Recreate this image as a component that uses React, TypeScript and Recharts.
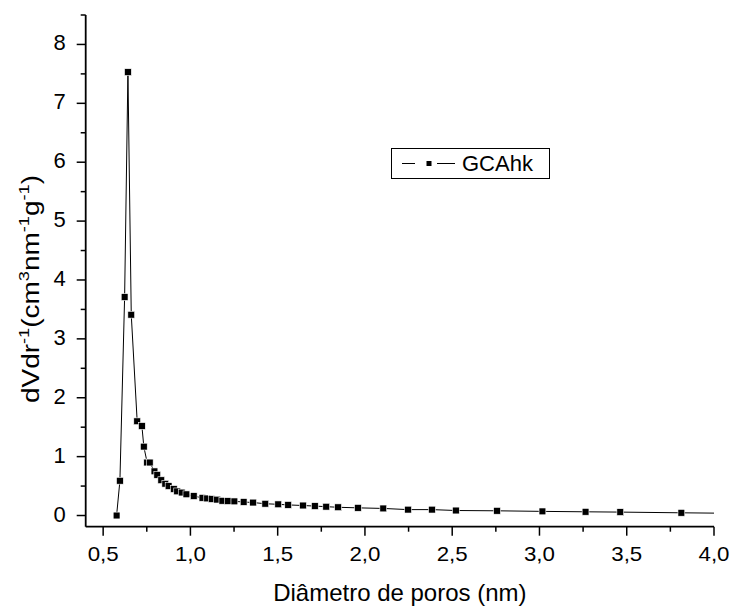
import React from 'react'
import {Line, LineChart, XAxis, YAxis, Label} from 'recharts';

const diameter = [0.577, 0.596, 0.623, 0.642, 0.661, 0.695, 0.722, 0.733, 0.752, 0.767, 0.794, 0.81, 0.833, 0.856, 0.875, 0.905, 0.924, 0.95, 0.977, 1.019, 1.069, 1.096, 1.122, 1.153, 1.183, 1.214, 1.252, 1.305, 1.359, 1.429, 1.503, 1.56, 1.645, 1.713, 1.778, 1.846, 1.96, 2.105, 2.247, 2.384, 2.521, 2.757, 3.017, 3.264, 3.463, 3.813, 4.2];
const dvdr = [0.0, 0.59, 3.71, 7.53, 3.41, 1.60, 1.52, 1.17, 0.90, 0.90, 0.75, 0.69, 0.60, 0.54, 0.50, 0.45, 0.41, 0.39, 0.36, 0.33, 0.30, 0.29, 0.28, 0.27, 0.25, 0.245, 0.24, 0.23, 0.22, 0.20, 0.19, 0.18, 0.17, 0.16, 0.15, 0.14, 0.13, 0.12, 0.10, 0.10, 0.085, 0.08, 0.07, 0.063, 0.058, 0.046, 0.035];
const xTicks = [0.5, 0.75, 1.0, 1.25, 1.5, 1.75, 2.0, 2.25, 2.5, 2.75, 3.0, 3.25, 3.5, 3.75, 4.0];
const yTicks = [0, 0.5, 1, 1.5, 2, 2.5, 3, 3.5, 4, 4.5, 5, 5.5, 6, 6.5, 7, 7.5, 8, 8.5];
const seriesName = 'GCAhk';

const data = diameter.map((d, i) => ({d, v: dvdr[i]}));

const font = '"Liberation Sans", Arial, sans-serif';

const XTick = ({x, y, payload}: any) => {
    const major = Number.isInteger(Math.round(payload.value * 1000) / 500);
    return (
        <g>
            <line x1={x} x2={x} y1={y} y2={y + (major ? 9 : 5)} stroke="#000" strokeWidth={1.5}/>
            {major && (
                <text x={x} y={y + 34} textAnchor="middle" fontSize={21} fontFamily={font} fill="#000"
                      textLength={31} lengthAdjust="spacingAndGlyphs">
                    {payload.value.toFixed(1).replace('.', ',')}
                </text>
            )}
        </g>
    );
};

const YTick = ({x, y, payload}: any) => {
    const major = Number.isInteger(payload.value);
    return (
        <g>
            <line x1={x} x2={x - (major ? 9 : 5)} y1={y} y2={y} stroke="#000" strokeWidth={1.5}/>
            {major && (
                <text x={x - 20} y={y + 6} textAnchor="end" fontSize={22} fontFamily={font} fill="#000">
                    {payload.value}
                </text>
            )}
        </g>
    );
};

const Square = ({cx, cy, index}: any) => (
    <rect key={index} x={cx - 3.4} y={cy - 3.4} width={6.8} height={6.8} fill="#000" stroke="#fff" strokeWidth={0.6}/>
);

const YTitle = ({viewBox}: any) => {
    const cx = viewBox.x + 38.5;
    const cy = 289;
    return (
        <text transform={`rotate(-90, ${cx}, ${cy})`} x={cx} y={cy} textAnchor="middle" fontSize={23} fontFamily={font} fill="#000"
              textLength={228} lengthAdjust="spacingAndGlyphs">
            dVdr<tspan dy={-10} fontSize={15}>-1</tspan>
            <tspan dy={10}>(cm</tspan><tspan dy={-10} fontSize={15}>3</tspan>
            <tspan dy={10}>nm</tspan><tspan dy={-10} fontSize={15}>-1</tspan>
            <tspan dy={10}>g</tspan><tspan dy={-10} fontSize={15}>-1</tspan>
            <tspan dy={10}>)</tspan>
        </text>
    );
};

const XTitle = ({viewBox}: any) => (
    <text x={viewBox.x + viewBox.width / 2} y={viewBox.y + 74} textAnchor="middle" fontSize={24} fontFamily={font} fill="#000">
        Diâmetro de poros (nm)
    </text>
);

const LegendBox = () => (
    <svg width={160} height={32} style={{position: 'absolute', left: 391, top: 148}}>
        <rect x={0.5} y={0.5} width={158} height={30} fill="#fff" stroke="#000" strokeWidth={1}/>
        <line x1={11} x2={24} y1={15.5} y2={15.5} stroke="#000" strokeWidth={1}/>
        <rect x={35.5} y={13} width={5} height={5} fill="#000"/>
        <line x1={46} x2={64} y1={15.5} y2={15.5} stroke="#000" strokeWidth={1}/>
        <text x={71} y={23} fontSize={22} fontFamily={font} fill="#000">{seriesName}</text>
    </svg>
);

export default function App() {
    return (
        <div style={{position: 'absolute', left: 0, top: 0, width: 735, height: 612, background: '#fff'}}>
            <LineChart
                width={735}
                height={612}
                data={data}
                margin={{top: 15, right: 21, bottom: 0, left: 0}}>
                <XAxis
                    dataKey="d"
                    type="number"
                    domain={[0.4, 4.0]}
                    ticks={xTicks}
                    interval={0}
                    allowDataOverflow={true}
                    height={85.3}
                    tickSize={0}
                    tickMargin={0}
                    tickLine={false}
                    tick={<XTick/>}
                    axisLine={{stroke: '#000', strokeWidth: 1.8}}
                >
                    <Label content={<XTitle/>}/>
                </XAxis>
                <YAxis
                    type="number"
                    domain={[-0.19, 8.5]}
                    ticks={yTicks}
                    interval={0}
                    allowDataOverflow={true}
                    width={85.7}
                    tickSize={0}
                    tickMargin={0}
                    tickLine={false}
                    tick={<YTick/>}
                    axisLine={{stroke: '#000', strokeWidth: 1.8}}
                >
                    <Label content={<YTitle/>}/>
                </YAxis>
                <Line
                    dataKey="v"
                    name={seriesName}
                    type="linear"
                    stroke="#000"
                    strokeWidth={1}
                    dot={<Square/>}
                    activeDot={false}
                    isAnimationActive={false}/>
            </LineChart>
            <LegendBox/>
        </div>
    )
};
